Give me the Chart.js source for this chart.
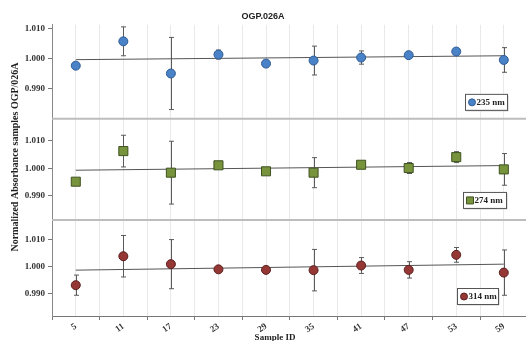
<!DOCTYPE html>
<html>
<head>
<meta charset="utf-8">
<script src="https://cdn.jsdelivr.net/npm/chart.js@4.4.1/dist/chart.umd.min.js"></script>
<style>
  html, body { margin: 0; padding: 0; background: #fff; }
  #wrap { width: 526px; height: 341px; position: relative; }
</style>
</head>
<body>
<div id="wrap"><canvas id="chart" width="526" height="341"></canvas></div>
<script>
// ---- data ----
const sampleIds = [5, 11, 17, 23, 29, 35, 41, 47, 53, 59];
const yTicks = [0.990, 1.000, 1.010];

const abs235 = [0.9977, 1.0058, 0.9951, 1.0014, 0.9984, 0.9994, 1.0004, 1.0012, 1.0024, 0.9996];
const err235 = [0, 0.0048, 0.0120, 0.0015, 0, 0.0048, 0.0022, 0.0005, 0, 0.0041];
const trend235 = [0.9997, 1.0010];

const abs274 = [0.9951, 1.0063, 0.9984, 1.0011, 0.9989, 0.9984, 1.0013, 1.0001, 1.0041, 0.9996];
const err274 = [0, 0.0058, 0.0115, 0, 0, 0.0055, 0, 0.0020, 0.0020, 0.0058];
const trend274 = [0.9993, 1.0010];

const abs314 = [0.9932, 1.0038, 1.0009, 0.9990, 0.9988, 0.9987, 1.0004, 0.9988, 1.0043, 0.9978];
const err314 = [0.0037, 0.0076, 0.0090, 0.0008, 0.0007, 0.0076, 0.0029, 0.0030, 0.0027, 0.0083];
const trend314 = [0.9987, 1.0009];

// ---- panel styling ----
const panels = [
  { id: "y235", label: "235 nm", abs: abs235, err: err235, trend: trend235,
    min: 0.9800, max: 1.0113, weight: 94, style: "circle", radius: 4.5,
    fill: "#4a82c8", edge: "#2f5b94", legend: { x: 465, w: 42, dy: 25 } },
  { id: "y274", label: "274 nm", abs: abs274, err: err274, trend: trend274,
    min: 0.9811, max: 1.0181, weight: 101, style: "rect", radius: 6.4,
    fill: "#77933c", edge: "#3f5220", legend: { x: 463, w: 43, dy: 28 } },
  { id: "y314", label: "314 nm", abs: abs314, err: err314, trend: trend314,
    min: 0.9819, max: 1.0171, weight: 96, style: "circle", radius: 4.5,
    fill: "#953735", edge: "#5a1f1e", legend: { x: 457, w: 41, dy: 28 } },
];

const serif = "'Liberation Serif', 'Times New Roman', serif";
const sans = "'Liberation Sans', Arial, sans-serif";
const X_MIN = 2, X_MAX = 61.8;

// ---- datasets: points + trend line per panel ----
const datasets = [];
panels.forEach(p => {
  datasets.push({
    type: "scatter",
    label: p.label,
    data: sampleIds.map((x, i) => ({ x, y: p.abs[i] })),
    yAxisID: p.id,
    pointStyle: p.style,
    pointRadius: p.radius,
    pointHoverRadius: p.radius,
    backgroundColor: p.fill,
    borderColor: p.edge,
    borderWidth: 1,
    order: 0,
  });
  datasets.push({
    type: "line",
    label: p.label + " trend",
    data: [{ x: sampleIds[0], y: p.trend[0] }, { x: sampleIds[sampleIds.length - 1], y: p.trend[1] }],
    yAxisID: p.id,
    borderColor: "#555",
    borderWidth: 1,
    pointRadius: 0,
    fill: false,
    order: 1,
  });
});

// ---- scales (y axes stacked; last defined ends up on top) ----
const scales = {
  x: {
    type: "linear",
    min: X_MIN,
    max: X_MAX,
    afterBuildTicks: s => {
      const t = [];
      for (let v = X_MIN; v <= 60; v += 3) t.push({ value: v });
      s.ticks = t;
    },
    afterFit: s => {
      s.height = 25;
      s.paddingLeft = 0;
      s.paddingRight = 0;
    },
    ticks: {
      autoSkip: false,
      minRotation: 35,
      maxRotation: 35,
      padding: 1,
      color: "#333",
      font: { family: serif, size: 9, weight: "bold" },
      callback: v => sampleIds.includes(v) ? String(v) : "",
    },
    grid: {
      color: "#e9e9e9",
      lineWidth: 1,
      tickLength: 4,
      tickColor: ctx => (ctx.tick && sampleIds.includes(ctx.tick.value)) ? "rgba(0,0,0,0)" : "#777",
    },
    border: { color: "#777", width: 1 },
  },
};
[...panels].reverse().forEach(p => {
  scales[p.id] = {
    type: "linear",
    position: "left",
    stack: "panels",
    stackWeight: p.weight,
    min: p.min,
    max: p.max,
    afterBuildTicks: s => { s.ticks = yTicks.map(v => ({ value: v })); },
    afterFit: s => { s.width = 52; },
    ticks: {
      color: "#333",
      padding: 3,
      font: { family: serif, size: 9, weight: "bold" },
      callback: v => v.toFixed(3),
    },
    grid: { drawOnChartArea: false, tickLength: 4, tickColor: "#777" },
    border: { color: "#888", width: 1 },
  };
});

// ---- plugin: error bars, panel separators, legends, axis titles ----
const decorations = {
  id: "decorations",
  beforeDatasetsDraw(chart) {
    const ctx = chart.ctx;
    const xs = chart.scales.x;
    ctx.save();
    ctx.strokeStyle = "#5a5a5a";
    ctx.lineWidth = 1;
    panels.forEach(p => {
      const ys = chart.scales[p.id];
      p.abs.forEach((v, i) => {
        const e = p.err[i];
        if (!e) return;
        const x = Math.round(xs.getPixelForValue(sampleIds[i])) + 0.5;
        const y1 = ys.getPixelForValue(v + e);
        const y2 = ys.getPixelForValue(v - e);
        ctx.beginPath();
        ctx.moveTo(x, y1); ctx.lineTo(x, y2);
        ctx.moveTo(x - 2.5, y1); ctx.lineTo(x + 2.5, y1);
        ctx.moveTo(x - 2.5, y2); ctx.lineTo(x + 2.5, y2);
        ctx.stroke();
      });
    });
    ctx.restore();
  },
  afterDraw(chart) {
    const ctx = chart.ctx;
    const area = chart.chartArea;
    ctx.save();
    // separators between panels
    ctx.strokeStyle = "#bdbdbd";
    ctx.lineWidth = 2;
    panels.slice(0, 2).forEach(p => {
      const y = chart.scales[p.id].bottom;
      ctx.beginPath();
      ctx.moveTo(area.left, y); ctx.lineTo(chart.width, y);
      ctx.stroke();
    });
    // legends
    panels.forEach(p => {
      const ys = chart.scales[p.id];
      const lx = p.legend.x, lw = p.legend.w, lh = 16;
      const ly = ys.bottom - p.legend.dy;
      ctx.fillStyle = "#c8c8c8";
      ctx.fillRect(lx + 1.5, ly + 1.5, lw, lh);
      ctx.fillStyle = "#fff";
      ctx.fillRect(lx, ly, lw, lh);
      ctx.strokeStyle = "#555";
      ctx.lineWidth = 1;
      ctx.strokeRect(lx + 0.5, ly + 0.5, lw, lh);
      const mx = lx + 7, my = ly + lh / 2 + 0.5;
      ctx.fillStyle = p.fill;
      ctx.strokeStyle = p.edge;
      ctx.beginPath();
      if (p.style === "rect") ctx.rect(mx - 3.5, my - 3.5, 7, 7);
      else ctx.arc(mx, my, 3.5, 0, Math.PI * 2);
      ctx.fill(); ctx.stroke();
      ctx.fillStyle = "#222";
      ctx.font = "bold 9px " + serif;
      ctx.textBaseline = "middle";
      ctx.textAlign = "left";
      ctx.fillText(p.label, mx + 4.5, my);
    });
    // y axis title
    ctx.fillStyle = "#222";
    ctx.font = "bold 10px " + serif;
    ctx.textAlign = "center";
    ctx.textBaseline = "middle";
    ctx.translate(15, 157);
    ctx.rotate(-Math.PI / 2);
    ctx.fillText("Normalized Absorbance samples OGP/026A", 0, 0);
    ctx.restore();
    // x axis title
    ctx.save();
    ctx.fillStyle = "#222";
    ctx.font = "bold 9px " + serif;
    ctx.textAlign = "center";
    ctx.textBaseline = "alphabetic";
    ctx.fillText("Sample ID", 275, 340);
    ctx.restore();
  },
};

new Chart(document.getElementById("chart").getContext("2d"), {
  data: { datasets },
  options: {
    responsive: false,
    animation: false,
    layout: { autoPadding: false, padding: { left: 0, right: 0, top: 0, bottom: 0 } },
    plugins: {
      legend: { display: false },
      tooltip: { enabled: false },
      title: {
        display: true,
        text: "OGP.026A",
        color: "#222",
        font: { family: sans, size: 9, weight: "bold" },
        padding: { top: 11, bottom: 3 },
      },
    },
    scales,
  },
  plugins: [decorations],
});
</script>
</body>
</html>
